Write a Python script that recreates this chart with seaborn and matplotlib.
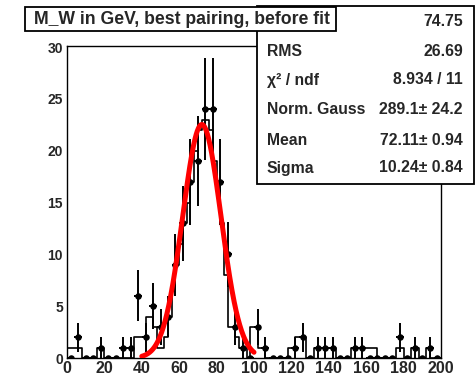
import numpy as np
import pandas as pd
import matplotlib
matplotlib.use("Agg")
import matplotlib.pyplot as plt
from matplotlib.patches import Rectangle
from matplotlib.ticker import MultipleLocator
import seaborn as sns

# ---------------- data ----------------
# step histogram: 100 bins of width 2 from 0 to 200
step_edges = list(range(0, 202, 2))
step_counts = [
    1, 1, 1, 1, 0, 0, 0, 0, 1, 1,
    0, 0, 0, 0, 0, 0, 0, 0, 2, 2,
    2, 4, 4, 3, 1, 1, 2, 4, 7, 9,
    11, 13, 15, 17, 20, 22, 23, 23, 22, 19,
    17, 13, 8, 3, 3, 2, 1, 1, 0, 3,
    3, 1, 1, 0, 0, 0, 0, 0, 0, 1,
    1, 2, 2, 2, 0, 0, 1, 1, 1, 1,
    1, 1, 0, 0, 0, 0, 1, 1, 1, 1,
    1, 1, 1, 0, 0, 0, 0, 0, 1, 1,
    0, 0, 1, 1, 0, 0, 1, 0, 0, 0,
]
# points with Poisson errors: 50 bins of width 4
point_centers = list(range(2, 200, 4))
point_counts = [
    0, 2, 0, 0, 1, 0, 0, 1, 1, 6,
    2, 5, 3, 4, 9, 13, 17, 19, 24, 24,
    17, 10, 3, 1, 0, 3, 1, 0, 0, 0,
    1, 2, 0, 1, 1, 1, 0, 0, 1, 1,
    0, 0, 0, 0, 2, 0, 1, 0, 1, 0,
]
# gaussian fit parameters (from the stats box)
fit_norm = 289.1
fit_mean = 72.11
fit_sigma = 10.24
fit_range = (40, 100)

title_text = "M_W in GeV, best pairing, before fit"
stat_labels = ["", "RMS", "\u03c7\u00b2 / ndf", "Norm. Gauss", "Mean", "Sigma"]
stat_values = ["74.75", "26.69", "8.934 / 11", "289.1\u00b1 24.2", "72.11\u00b1 0.94", "10.24\u00b1 0.84"]

# ---------------- figure ----------------
sns.set_style("white")
plt.rcParams["font.family"] = ["Liberation Sans", "DejaVu Sans"]
plt.rcParams["font.weight"] = "bold"

W, H = 477, 382
fig = plt.figure(figsize=(W / 100, H / 100), dpi=100)
fig.patch.set_facecolor("white")

def fx(px):
    return px / W

def fy(py):
    return 1 - py / H

ax_l, ax_r, ax_t, ax_b = 67, 441, 46, 358
ax = fig.add_axes([fx(ax_l), fy(ax_b), (ax_r - ax_l) / W, (ax_b - ax_t) / H])

step_centers = [e + 1 for e in step_edges[:-1]]
df_step = pd.DataFrame({"x": step_centers, "w": step_counts})
sns.histplot(data=df_step, x="x", weights="w", bins=step_edges, element="step",
             fill=False, color="black", linewidth=1.2, ax=ax)

df_pts = pd.DataFrame({"x": point_centers, "y": point_counts})
df_pts["err"] = np.sqrt(df_pts["y"])
ax.errorbar(df_pts["x"], df_pts["y"], yerr=df_pts["err"], xerr=2, fmt="none",
            ecolor="black", elinewidth=1.4, capsize=0, zorder=3)
sns.scatterplot(data=df_pts, x="x", y="y", color="black", s=22, edgecolor="black",
                linewidth=0, ax=ax, zorder=4)

xf = np.linspace(fit_range[0], fit_range[1], 300)
yf = fit_norm * 2 / (np.sqrt(2 * np.pi) * fit_sigma) * np.exp(-0.5 * ((xf - fit_mean) / fit_sigma) ** 2)
sns.lineplot(x=xf, y=yf, color="red", linewidth=3.6, ax=ax, zorder=5)

ax.set_xlim(0, 200)
ax.set_ylim(0, 30.1)
ax.set_xlabel("")
ax.set_ylabel("")
ax.xaxis.set_major_locator(MultipleLocator(20))
ax.xaxis.set_minor_locator(MultipleLocator(4))
ax.yaxis.set_major_locator(MultipleLocator(5))
ax.yaxis.set_minor_locator(MultipleLocator(1))
ax.tick_params(axis="both", which="both", direction="in", top=False, right=False,
               color="black", width=1.0)
ax.tick_params(axis="y", which="major", length=7.5, labelsize=10, pad=3)
ax.tick_params(axis="y", which="minor", length=4.5)
ax.tick_params(axis="x", which="major", length=7.5, labelsize=11.5, pad=2)
ax.tick_params(axis="x", which="minor", length=3.8)
for lab in ax.get_xticklabels() + ax.get_yticklabels():
    lab.set_fontweight("bold")
for sp in ax.spines.values():
    sp.set_color("black")
    sp.set_linewidth(1.0)

# stats box
sb_l, sb_t, sb_r, sb_b = 257, 6, 474, 184
fig.patches.append(Rectangle((fx(sb_l), fy(sb_b)), (sb_r - sb_l) / W, (sb_b - sb_t) / H,
                             transform=fig.transFigure, facecolor="white",
                             edgecolor="black", linewidth=1.3, zorder=10))
row_y = [21, 51, 80, 110, 140, 168]
for lab, val, yy in zip(stat_labels, stat_values, row_y):
    if lab:
        fig.text(fx(267), fy(yy), lab, ha="left", va="center", fontsize=11.3,
                 fontweight="bold", zorder=11)
    fig.text(fx(463), fy(yy), val, ha="right", va="center", fontsize=11.3,
             fontweight="bold", zorder=11)

# title box
tb_l, tb_t, tb_r, tb_b = 25, 7, 336, 31
fig.patches.append(Rectangle((fx(tb_l), fy(tb_b)), (tb_r - tb_l) / W, (tb_b - tb_t) / H,
                             transform=fig.transFigure, facecolor="white",
                             edgecolor="black", linewidth=1.3, zorder=12))
fig.text(fx((tb_l + tb_r) / 2 + 1), fy(19.5), title_text, ha="center", va="center",
         fontsize=12.7, fontweight="bold", zorder=13)

fig.savefig("out.png", dpi=100, facecolor="white")
